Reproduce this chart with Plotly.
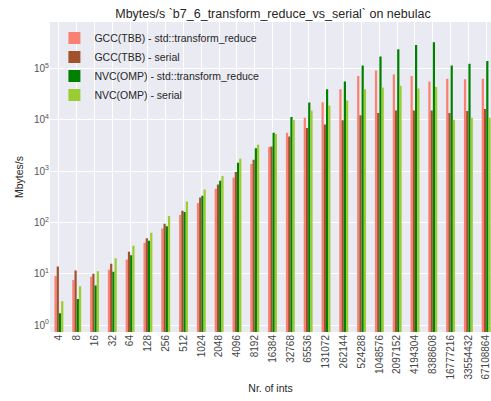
import plotly.graph_objects as go

categories = ["4", "8", "16", "32", "64", "128", "256", "512", "1024", "2048", "4096",
              "8192", "16384", "32768", "65536", "131072", "262144", "524288", "1048576",
              "2097152", "4194304", "8388608", "16777216", "33554432", "67108864"]

gcc_tbb_transform_reduce = [9.0, 7.5, 8.7, 12, 19, 40, 76, 139, 240, 454, 740,
                            1380, 2950, 5600, 11000, 21900, 39500, 71300, 91600,
                            76700, 71300, 55500, 63400, 61500, 63400]
gcc_tbb_serial = [13.9, 11.5, 10, 15.6, 26.7, 49, 94, 168, 306, 550, 960,
                  1660, 3030, 4700, 6900, 8100, 9800, 12200, 13500,
                  15200, 15200, 15200, 13500, 14800, 16300]
nvc_omp_transform_reduce = [1.7, 3.2, 5.9, 10.9, 23, 44, 84, 160, 330, 650, 1450,
                            2800, 5600, 11300, 21700, 39500, 55500, 114000, 172000,
                            238000, 288000, 325000, 114000, 124000, 140000]
nvc_omp_serial = [2.9, 5.7, 11.2, 20, 35, 63, 134, 255, 440, 800, 1740,
                  3250, 5300, 10000, 15200, 19000, 23700, 39500, 42600,
                  45900, 40800, 43800, 10000, 10900, 11000]

series = [
    ("GCC(TBB) - std::transform_reduce", gcc_tbb_transform_reduce, "#FA8072"),
    ("GCC(TBB) - serial", gcc_tbb_serial, "#A0522D"),
    ("NVC(OMP) - std::transform_reduce", nvc_omp_transform_reduce, "#008000"),
    ("NVC(OMP) - serial", nvc_omp_serial, "#9ACD32"),
]

fig = go.Figure()
for name, vals, color in series:
    fig.add_trace(go.Bar(x=categories, y=vals, name=name,
                         marker=dict(color=color, line=dict(width=0))))

font_family = "Liberation Sans, Arial, sans-serif"
ytickvals = [1, 10, 100, 1000, 10000, 100000]
yticktext = ["10<sup>%d</sup>" % i for i in range(6)]

fig.update_layout(
    width=491, height=401,
    margin=dict(l=50, r=0, t=22, b=69),
    paper_bgcolor="white",
    plot_bgcolor="#EAEAF2",
    barmode="group",
    bargap=0.5,
    bargroupgap=0,
    font=dict(family=font_family, color="#262626"),
    title=dict(text="Mbytes/s `b7_6_transform_reduce_vs_serial` on nebulac",
               x=(50 + 491) / 2 / 491 + 0.005, xanchor="center",
               y=1 - 14 / 401, yanchor="middle",
               font=dict(size=12.5, color="#262626")),
    legend=dict(x=0.01, y=0.995, xanchor="left", yanchor="top",
                bgcolor="rgba(234,234,242,0)", font=dict(size=10.5, color="#262626"),
                tracegroupgap=0, itemwidth=30),
    showlegend=True,
)
fig.update_xaxes(
    type="category",
    range=[-0.5, 24.27],
    showgrid=True, gridcolor="white", gridwidth=1,
    tickangle=-90,
    tickfont=dict(size=10, color="#444"),
    ticks="", zeroline=False, showline=False,
    title=dict(text="Nr. of ints", font=dict(size=10.5, color="#262626"), standoff=6),
)
fig.update_yaxes(
    type="log",
    range=[-0.136, 5.906],
    tickvals=ytickvals, ticktext=yticktext,
    showgrid=True, gridcolor="white", gridwidth=1,
    tickfont=dict(size=10, color="#555"),
    ticks="", zeroline=False, showline=False,
    title=dict(text="Mbytes/s", font=dict(size=10.5, color="#262626"), standoff=8),
)

fig.write_html("out.html")
